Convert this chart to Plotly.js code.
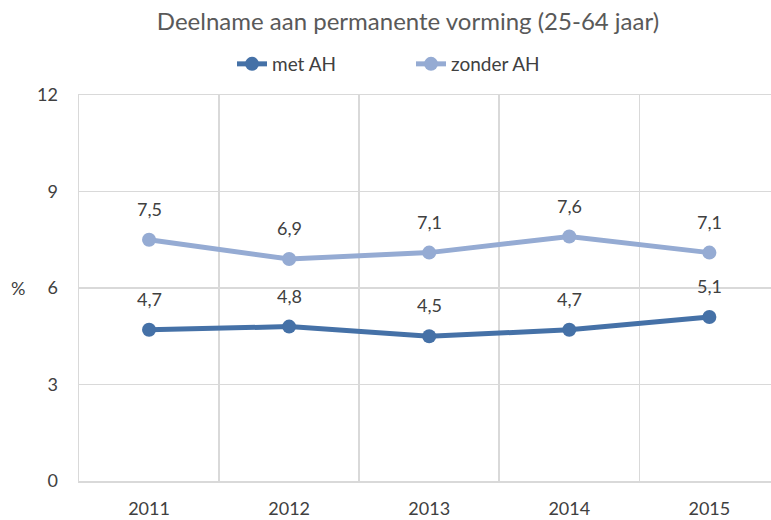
<!DOCTYPE html>
<html><head><meta charset="utf-8">
<script src="https://cdn.plot.ly/plotly-3.0.1.min.js"></script>
<style>body{margin:0}#c{width:771px;height:520px}</style>
</head><body><div id="c"></div>
<script>
var years = ['2011','2012','2013','2014','2015'];
var metAH = [4.7, 4.8, 4.5, 4.7, 5.1];
var zonderAH = [7.5, 6.9, 7.1, 7.6, 7.1];
var yTicks = [0, 3, 6, 9, 12];
var fmt = function(v){ return v.toFixed(1).replace('.', ','); };
var F = 'Lato, "Open Sans", sans-serif';
var txt = '#404040';
var grid = '#d9d9d9';
function tr(name, y, color){
  return {x: years, y: y, name: name, type: 'scatter', mode: 'lines+markers',
    line: {color: color, width: 5}, marker: {color: color, size: 14},
    hoverinfo: 'skip'};
}
var ann = [];
[metAH, zonderAH].forEach(function(s){
  s.forEach(function(v, i){
    ann.push({x: i, y: v, xref: 'x', yref: 'y', text: fmt(v), showarrow: false, yshift: 31,
      font: {family: F, size: 18, color: txt}});
  });
});
ann.push({xref:'paper', yref:'paper', x:-0.088, y:0.5, xanchor:'center', text:'%', showarrow:false,
  font:{family:F, size:18, color:txt}});
var layout = {
  width: 771, height: 520,
  margin: {l: 79, r: 0, t: 95, b: 39},
  paper_bgcolor: 'white', plot_bgcolor: 'white',
  title: {text: 'Deelname aan permanente vorming (25-64 jaar)', x: 408/771, xref: 'container', xanchor: 'center',
    y: 1 - 22/520, yref: 'container', yanchor: 'middle',
    font: {family: F, size: 24, color: '#595959'}},
  showlegend: true,
  legend: {orientation: 'h', x: 232/771, xref: 'container', xanchor: 'left', y: 1 - 64/520, yref: 'container',
    yanchor: 'middle', entrywidth: 134, entrywidthmode: 'pixels',
    font: {family: F, size: 19, color: txt}},
  xaxis: {type: 'category', range: [-0.5, 4.44], tickson: 'boundaries', showgrid: true,
    gridcolor: grid, gridwidth: 1.5, ticks: '', ticklabelstandoff: 11,
    showline: true, mirror: true, linecolor: grid, linewidth: 1.5, zeroline: false, fixedrange: true,
    tickfont: {family: F, size: 18, color: txt}},
  yaxis: {range: [0, 12], tickvals: yTicks, showgrid: true, gridcolor: grid, gridwidth: 1.5,
    zeroline: false, showline: true, linecolor: grid, linewidth: 1.5, ticks: 'outside', ticklen: 16, tickcolor: 'rgba(0,0,0,0)',
    tickfont: {family: F, size: 18, color: txt}, fixedrange: true},
  annotations: ann
};
Plotly.newPlot('c', [tr('met AH', metAH, '#4571A7'), tr('zonder AH', zonderAH, '#95ABD3')], layout, {displayModeBar: false, staticPlot: true});
</script></body></html>
